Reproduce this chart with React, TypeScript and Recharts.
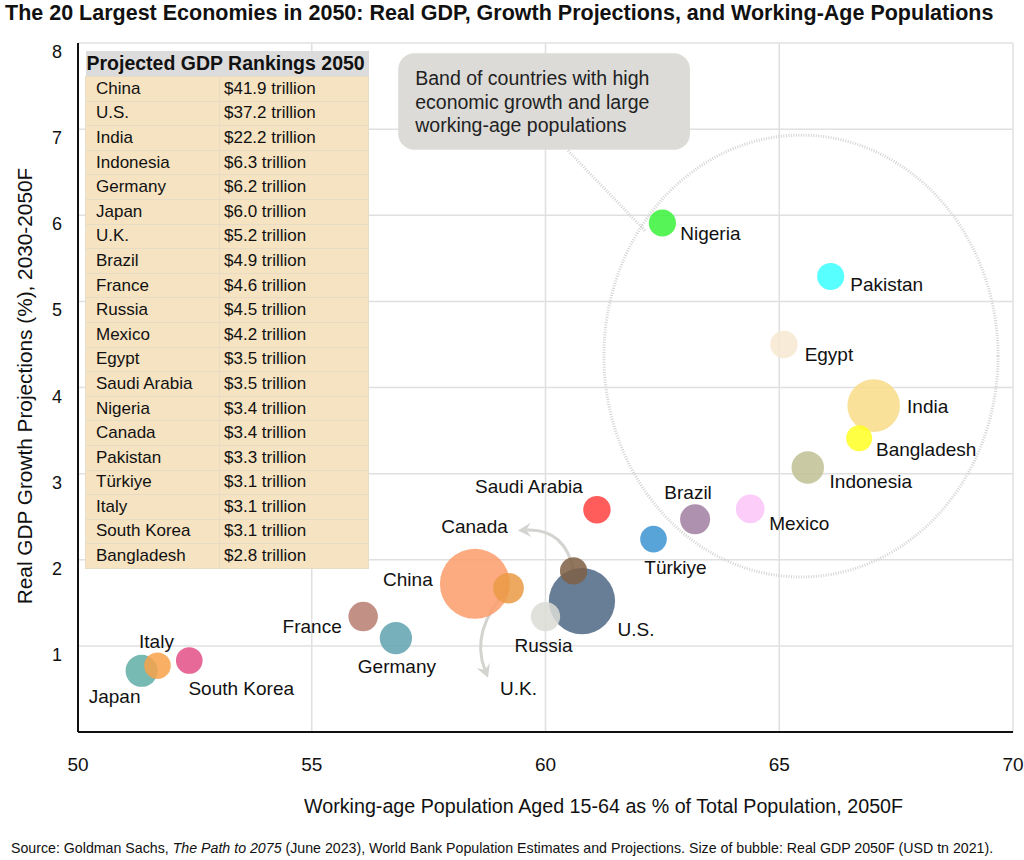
import React from "react"
import {
  ScatterChart,
  Scatter,
  XAxis,
  YAxis,
  ZAxis,
  CartesianGrid,
  ReferenceArea,
  ReferenceLine,
} from "recharts"

// bubble data
const COUNTRIES = [
  "China", "U.S.", "India", "Indonesia", "Germany", "Japan", "U.K.", "Brazil", "France", "Russia",
  "Mexico", "Egypt", "Saudi Arabia", "Nigeria", "Canada", "Pakistan", "Türkiye", "Italy", "South Korea", "Bangladesh",
]
const WORKING_AGE = [
  58.49, 60.78, 67.02, 65.61, 56.8, 51.36, 59.21, 63.2, 56.1, 60.0,
  64.38, 65.1, 61.1, 62.5, 60.6, 66.1, 62.31, 51.7, 52.38, 66.71,
]
const GROWTH = [
  1.72, 1.52, 3.79, 3.07, 1.09, 0.71, 1.67, 2.47, 1.34, 1.34,
  2.59, 4.5, 2.58, 5.91, 1.87, 5.29, 2.24, 0.77, 0.83, 3.41,
]
const GDP_2050 = [
  41.9, 37.2, 22.2, 6.3, 6.2, 6.0, 5.2, 4.9, 4.6, 4.5,
  4.2, 3.5, 3.5, 3.4, 3.4, 3.3, 3.1, 3.1, 3.1, 2.8,
]
const COLORS = [
  "#fb9b68", "#4d6785", "#f8dc88", "#bfc193", "#5fa2ae", "#5fada6", "#eb9a45", "#a07ea0", "#b97d70", "#dcdcd6",
  "#fbc4f8", "#f7e7d1", "#ff4040", "#3af23a", "#7f5f44", "#3affff", "#3b93d0", "#f8a24a", "#e24f85", "#ffff22",
]

const X_TICKS = [50, 55, 60, 65, 70]
const Y_TICKS = [1, 2, 3, 4, 5, 6, 7, 8]

// label placement relative to bubble centre (px)
const LABEL_OFFSET: Record<string, [number, number]> = {
  China: [-67, -4],
  "U.S.": [54, 28],
  India: [54, 1],
  Indonesia: [63, 14],
  Germany: [1, 28],
  Japan: [-27, 26],
  "U.K.": [10, 100],
  Brazil: [-7, -27],
  France: [-51, 10],
  Russia: [-2, 29],
  Mexico: [49, 15],
  Egypt: [45, 10],
  "Saudi Arabia": [-68, -23],
  Nigeria: [48, 10],
  Canada: [-99, -44],
  Pakistan: [56, 8],
  "Türkiye": [22, 28],
  Italy: [-1, -24],
  "South Korea": [52, 28],
  Bangladesh: [67, 11],
}

const data = COUNTRIES.map((name, i) => ({
  name,
  x: WORKING_AGE[i],
  y: GROWTH[i],
  gdp: GDP_2050[i],
  color: COLORS[i],
}))

const FONT = "'Liberation Sans', Arial, Helvetica, sans-serif"

const Bubble = (props: any) => {
  const { cx, cy, payload } = props
  const r = props.width ? props.width / 2 : Math.sqrt(props.size / Math.PI)
  return <circle cx={cx} cy={cy} r={r} fill={payload.color} fillOpacity={0.85} />
}

const BubbleLabel = (props: any) => {
  const { cx, cy, payload } = props
  const [dx, dy] = LABEL_OFFSET[payload.name] || [0, 0]
  return (
    <text x={cx + dx} y={cy + dy} textAnchor="middle" dominantBaseline="central" fontSize={19} fill="#111" fontFamily={FONT}>
      {payload.name}
    </text>
  )
}

const XTick = ({ x, y, payload }: any) => (
  <text x={x} y={y + 24} textAnchor="middle" dominantBaseline="central" fontSize={19} fill="#111" fontFamily={FONT}>
    {payload.value}
  </text>
)

const YTick = ({ x, y, payload }: any) => (
  <text x={x - 8} y={y + 9} textAnchor="end" dominantBaseline="central" fontSize={18} fill="#111" fontFamily={FONT}>
    {payload.value}
  </text>
)

const DottedEllipse = (p: any) => (
  <ellipse
    cx={p.x + p.width / 2}
    cy={p.y + p.height / 2}
    rx={p.width / 2}
    ry={p.height / 2}
    fill="none"
    stroke="#d4d4d4"
    strokeWidth={3}
    strokeDasharray="1 1.5"
  />
)

const NOTE_LINES = ["Band of countries with high", "economic growth and large", "working-age populations"]

const NoteBox = (p: any) => (
  <g>
    <rect x={p.x} y={p.y} width={p.width} height={p.height} rx={16} ry={16} fill="#dcdbd8" />
    {NOTE_LINES.map((t, i) => (
      <text key={i} x={p.x + 17} y={p.y + 25 + i * 23.5} dominantBaseline="central" fontSize={19.5} fill="#222" fontFamily={FONT}>
        {t}
      </text>
    ))}
  </g>
)

// curved arrow inside a reference box; start/end corners + control point as fractions
const arrowShape = (start: [number, number], end: [number, number], ctrl: [number, number]) => (p: any) => {
  const px = (f: number) => p.x + f * p.width
  const py = (f: number) => p.y + f * p.height
  const sx = px(start[0]), sy = py(start[1])
  const ex = px(end[0]), ey = py(end[1])
  const cx = px(ctrl[0]), cy = py(ctrl[1])
  const ang = Math.atan2(ey - cy, ex - cx)
  const len = 15
  const spread = 0.5
  const ax = ex - len * Math.cos(ang - spread), ay = ey - len * Math.sin(ang - spread)
  const bx = ex - len * Math.cos(ang + spread), by = ey - len * Math.sin(ang + spread)
  const mx = ex - len * 0.55 * Math.cos(ang), my = ey - len * 0.55 * Math.sin(ang)
  return (
    <g>
      <path d={`M${sx},${sy} Q${cx},${cy} ${mx},${my}`} fill="none" stroke="#d3d3d0" strokeWidth={3} />
      <path d={`M${ex},${ey} L${ax},${ay} L${mx},${my} L${bx},${by} Z`} fill="#d3d3d0" />
    </g>
  )
}

const RANKING_ROWS = COUNTRIES.map((c, i) => [c, `$${GDP_2050[i].toFixed(1)} trillion`])

function RankingTable() {
  return (
    <table
      style={{
        position: "absolute",
        left: 85,
        top: 51,
        width: 283,
        borderCollapse: "collapse",
        fontFamily: FONT,
        fontSize: 17,
        color: "#111",
        tableLayout: "fixed",
      }}
    >
      <colgroup>
        <col style={{ width: 134 }} />
        <col style={{ width: 149 }} />
      </colgroup>
      <thead>
        <tr>
          <th colSpan={2} style={{ background: "#dcdcdc", height: 25, padding: "0 0 0 1px", textAlign: "left", fontWeight: 700, fontSize: 19.5, whiteSpace: "nowrap", lineHeight: "23px" }}>
            Projected GDP Rankings 2050
          </th>
        </tr>
      </thead>
      <tbody>
        {RANKING_ROWS.map(([c, v]) => (
          <tr key={c} style={{ height: 24.6 }}>
            <td style={{ background: "#f6e3c1", border: "1px solid #e9dcc6", padding: "0 0 0 10px", lineHeight: "22px" }}>{c}</td>
            <td style={{ background: "#f6e3c1", border: "1px solid #e9dcc6", padding: "0 0 0 4px", lineHeight: "22px" }}>{v}</td>
          </tr>
        ))}
      </tbody>
    </table>
  )
}

export default function App() {
  return (
    <div style={{ position: "absolute", left: 0, top: 0, width: 1024, height: 860, background: "#fff", fontFamily: FONT }}>
      <div style={{ position: "absolute", left: 5, top: 1, fontSize: 21.5, fontWeight: 700, color: "#111", whiteSpace: "nowrap" }}>
        The 20 Largest Economies in 2050: Real GDP, Growth Projections, and Working-Age Populations
      </div>
      <ScatterChart width={1024} height={860} margin={{ top: 43, right: 11, bottom: 88, left: 18 }}>
        <CartesianGrid stroke="#e0e0e0" strokeWidth={1.5} />
        <XAxis
          type="number"
          dataKey="x"
          domain={[50, 70]}
          ticks={X_TICKS}
          height={40}
          tickLine={false}
          axisLine={{ stroke: "#111", strokeWidth: 2 }}
          tick={<XTick />}
          interval={0}
        />
        <YAxis
          type="number"
          dataKey="y"
          domain={[0, 8]}
          ticks={Y_TICKS}
          width={60}
          tickLine={false}
          axisLine={{ stroke: "#111", strokeWidth: 2 }}
          tick={<YTick />}
          interval={0}
        />
        <ZAxis type="number" dataKey="gdp" domain={[2.8, 41.9]} range={[531, 3848]} />
        <ReferenceArea x1={61.25} x2={69.68} y1={1.8} y2={6.93} shape={<DottedEllipse />} />
        <ReferenceLine
          segment={[{ x: 60.48, y: 6.75 }, { x: 62.13, y: 5.82 }]}
          stroke="#d4d4d4"
          strokeWidth={3}
          strokeDasharray="1 1.5"
        />
        <ReferenceArea x1={56.85} x2={63.09} y1={6.76} y2={7.88} shape={<NoteBox />} />
        <Scatter data={data} shape={<Bubble />} isAnimationActive={false} />
        <ReferenceArea x1={59.41} x2={60.6} y1={1.87} y2={2.34} shape={arrowShape([1, 1], [0, 0], [0.85, -0.05])} />
        <ReferenceArea x1={58.77} x2={59.21} y1={0.63} y2={1.67} shape={arrowShape([1, 0], [0, 1], [-0.9, 0.47])} />
        <Scatter data={data} shape={<BubbleLabel />} isAnimationActive={false} />
      </ScatterChart>
      <RankingTable />
      <div style={{ position: "absolute", left: 304, top: 795, fontSize: 19.7, color: "#111", whiteSpace: "nowrap" }}>
        Working-age Population Aged 15-64 as % of Total Population, 2050F
      </div>
      <div
        style={{
          position: "absolute",
          left: 25,
          top: 386,
          transform: "translate(-50%, -50%) rotate(-90deg)",
          fontSize: 20.8,
          color: "#111",
          whiteSpace: "nowrap",
        }}
      >
        Real GDP Growth Projections (%), 2030-2050F
      </div>
      <div style={{ position: "absolute", left: 11, top: 840, fontSize: 14.2, color: "#111", whiteSpace: "nowrap" }}>
        Source: Goldman Sachs, <i>The Path to 2075</i> (June 2023), World Bank Population Estimates and Projections. Size of bubble: Real GDP 2050F (USD tn 2021).
      </div>
    </div>
  )
}
